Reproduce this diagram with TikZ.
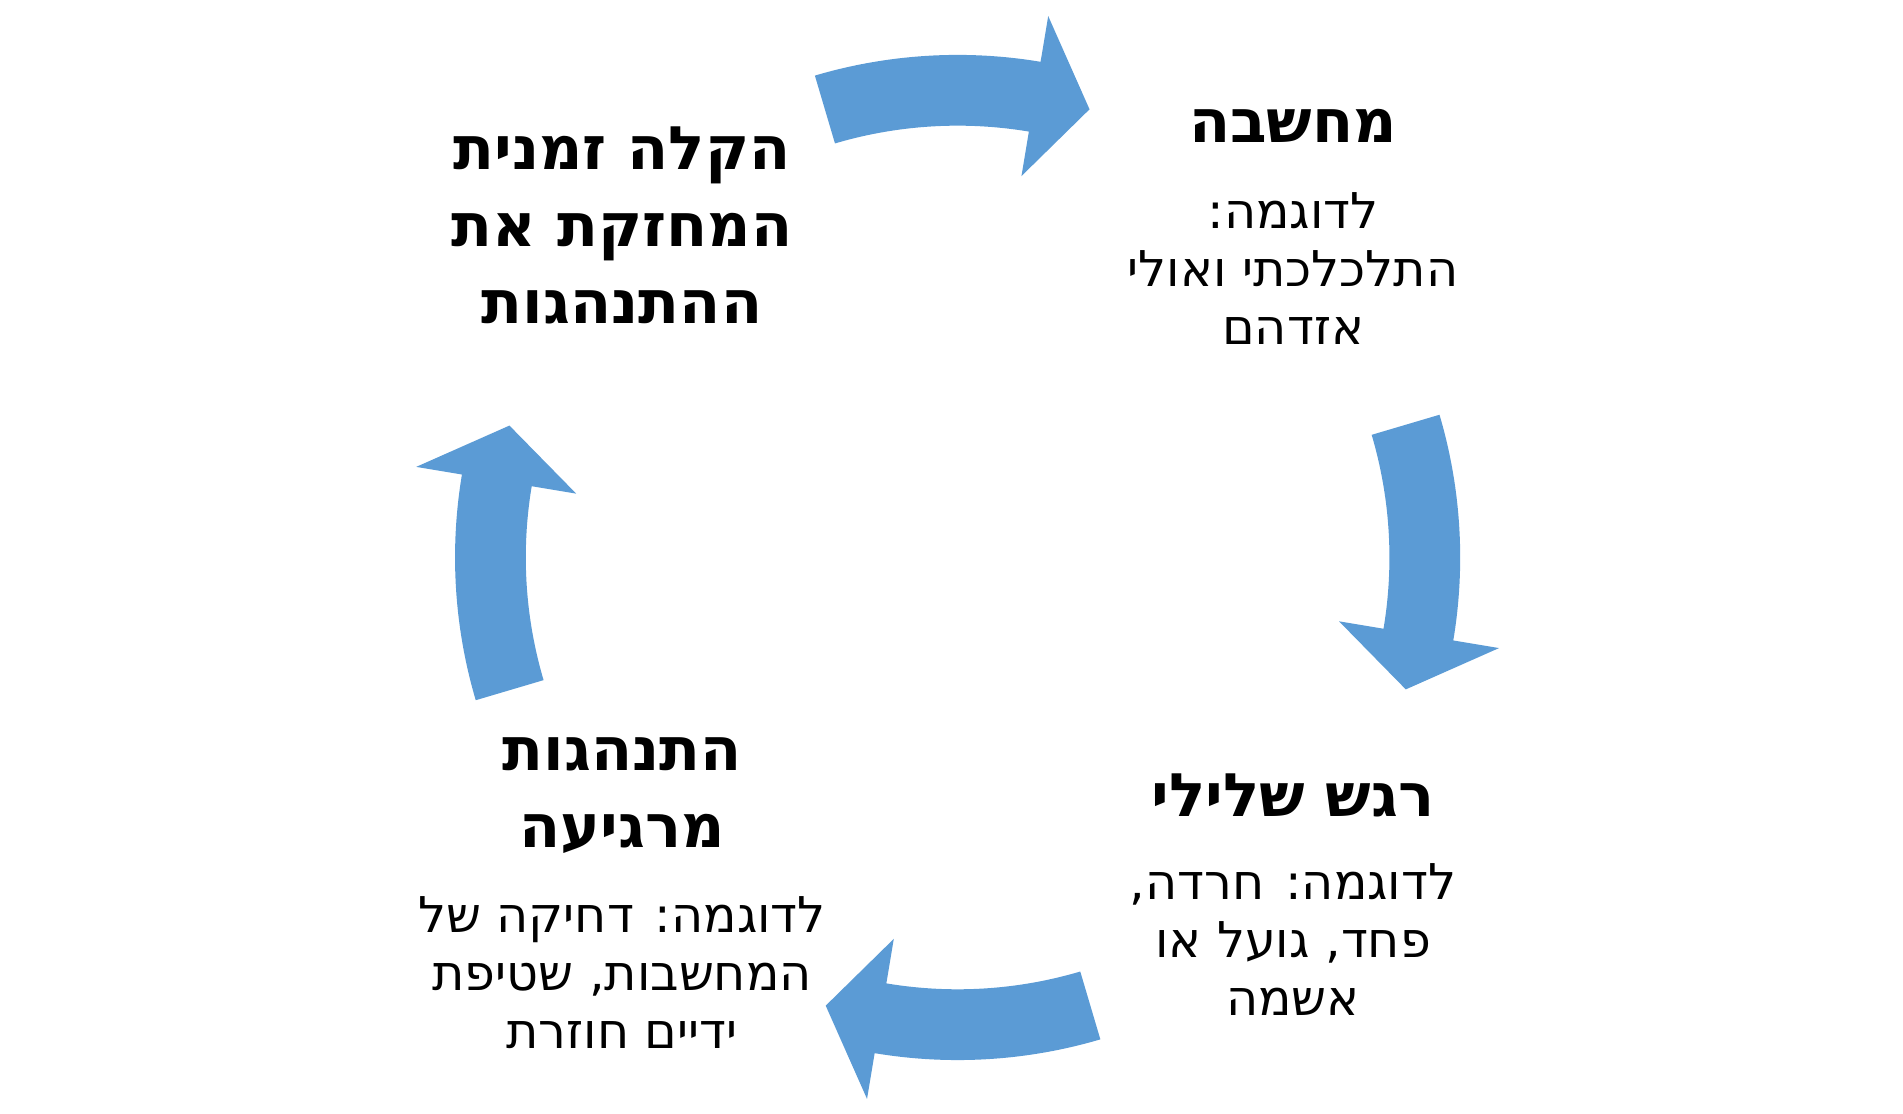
\documentclass[tikz,border=0pt]{standalone}
\usepackage{fontspec}
\newfontfamily\hebfont[Script=Hebrew]{DejaVu Sans}
\TeXXeTstate=1
\newcommand{\heb}[1]{\beginR #1\endR}
\tikzset{
  cyclearrow/.style={fill=arrowblue, draw=none},
  title/.style={font=\hebfont\bfseries\fontsize{14}{18}\selectfont, align=center},
  body/.style={font=\hebfont\fontsize{11.5}{13.5}\selectfont, align=center}
}
\definecolor{arrowblue}{HTML}{5B9BD5}
\begin{document}
\begin{tikzpicture}
  \useasboundingbox (0,0) rectangle (15.60,-9.13);
  % four curved block arrows round the cycle
  \begin{scope}[shift={(7.85,-4.57)}]
    \foreach \b in {0,-90,-180,-270}
      \fill[cyclearrow] (\b+106.5:4.12) arc[start angle=\b+106.5, end angle=\b+80.5, radius=4.12]
        -- (\b+80.5:4.50) -- (\b+73.6:3.83) -- (\b+80.5:3.17) -- (\b+80.5:3.54)
        arc[start angle=\b+80.5, end angle=\b+106.5, radius=3.54] -- cycle;
  \end{scope}
  % texts
  \node (thought) [title] at (10.60,-1.03) {\heb{מחשבה}};
  \node (thoughtex) [body] at (10.60,-2.20) {\heb{לדוגמה:}\\\heb{התלכלכתי ואולי}\\\heb{אזדהם}};
  \node (emotion) [title] at (10.60,-6.52) {\heb{רגש שלילי}};
  \node (emotionex) [body] at (10.60,-7.70) {\heb{לדוגמה: חרדה,}\\\heb{פחד, גועל או}\\\heb{אשמה}};
  \node (behav) [title] at (5.10,-6.52) {\heb{התנהגות}\\\heb{מרגיעה}};
  \node (behavex) [body] at (5.10,-7.97) {\heb{לדוגמה: דחיקה של}\\\heb{המחשבות, שטיפת}\\\heb{ידיים חוזרת}};
  \node (relief) [title] at (5.10,-1.85) {\heb{הקלה זמנית}\\\heb{המחזקת את}\\\heb{ההתנהגות}};
\end{tikzpicture}
\end{document}
